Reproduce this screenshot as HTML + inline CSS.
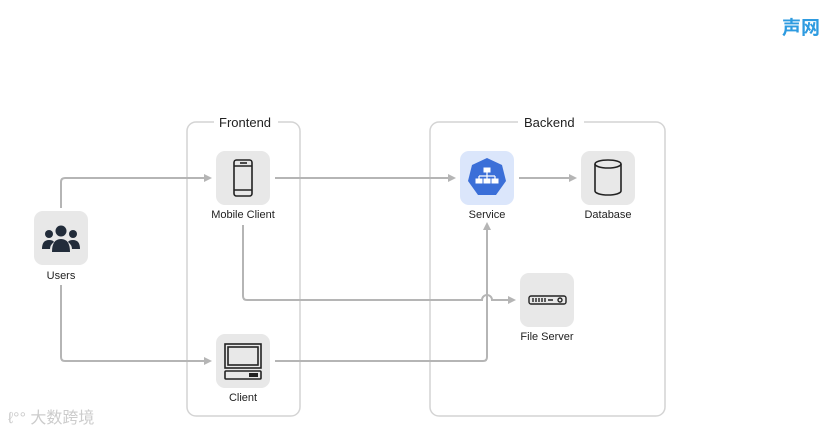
<!DOCTYPE html>
<html><head><meta charset="utf-8"><style>
body{margin:0;width:830px;height:430px;background:#fff;overflow:hidden;position:relative;font-family:"Liberation Sans","Noto Sans CJK SC",sans-serif}
.t{position:absolute;font-size:11px;color:#222;text-align:center;width:100px}
</style></head><body>
<svg width="830" height="430" style="position:absolute;left:0;top:0">
<defs><marker id="a" markerWidth="8" markerHeight="8" refX="6" refY="4" orient="auto" markerUnits="userSpaceOnUse"><path d="M0,0 L8,4 L0,8 z" fill="#b5b5b5"/></marker></defs>
<rect x="187" y="122" width="113" height="294" rx="9" fill="none" stroke="#d4d4d4" stroke-width="1.5"/>
<rect x="430" y="122" width="235" height="294" rx="9" fill="none" stroke="#d4d4d4" stroke-width="1.5"/>
<rect x="214" y="114" width="64" height="16" fill="#fff"/>
<rect x="518" y="114" width="66" height="16" fill="#fff"/>
<g fill="none" stroke="#b5b5b5" stroke-width="2">
<path d="M61,208 V182 Q61,178 65,178 H210" marker-end="url(#a)"/>
<path d="M61,285 V357 Q61,361 65,361 H210" marker-end="url(#a)"/>
<path d="M275,178 H454" marker-end="url(#a)"/>
<path d="M519,178 H575" marker-end="url(#a)"/>
<path d="M243,225 V296 Q243,300 247,300 H482 A5,5 0 0 1 492,300 H514" marker-end="url(#a)"/>
<path d="M275,361 H483 Q487,361 487,357 V224" marker-end="url(#a)"/>
</g>
<rect x="34" y="211" width="54" height="54" rx="9" fill="#e8e8e8"/>
<rect x="216" y="151" width="54" height="54" rx="9" fill="#e8e8e8"/>
<rect x="216" y="334" width="54" height="54" rx="9" fill="#e8e8e8"/>
<rect x="460" y="151" width="54" height="54" rx="9" fill="#dbe6fb"/>
<rect x="581" y="151" width="54" height="54" rx="9" fill="#e8e8e8"/>
<rect x="520" y="273" width="54" height="54" rx="9" fill="#e8e8e8"/>
<!-- users icon -->
<g fill="#222c3a"><circle cx="61" cy="231" r="5.5"/><circle cx="49" cy="234" r="4"/><circle cx="73" cy="234" r="4"/>
<path d="M52,252 Q52,239 61,239 Q70,239 70,252 z"/><path d="M42,249 Q42,240 49,240 Q53,240 54,242 Q50,245 50,249 z"/><path d="M80,249 Q80,240 73,240 Q69,240 68,242 Q72,245 72,249 z"/></g>
<!-- phone -->
<g fill="none" stroke="#222" stroke-width="1.6"><rect x="234" y="160" width="18" height="36" rx="2.5"/><line x1="234" y1="166" x2="252" y2="166"/><line x1="234" y1="190" x2="252" y2="190"/><line x1="240" y1="163" x2="247" y2="163"/></g>
<!-- laptop -->
<g fill="none" stroke="#222" stroke-width="1.6"><rect x="225" y="344" width="36" height="24"/><rect x="228" y="347" width="30" height="18"/><rect x="225" y="371" width="36" height="8" rx="1"/></g><rect x="249" y="373" width="9" height="4" fill="#222"/>
<!-- service -->
<path d="M487,158 L502,165 L506,181 L496,195 L478,195 L468,181 L472,165 z" fill="#3b6fd8"/>
<g fill="#fff" stroke="#fff"><rect x="484" y="168" width="6" height="4"/><path d="M487,172 V176 M479,176 H495 M479,176 V179 M487,176 V179 M495,176 V179" fill="none" stroke-width="1.2"/><rect x="476" y="179" width="6" height="4"/><rect x="484" y="179" width="6" height="4"/><rect x="492" y="179" width="6" height="4"/></g>
<!-- database -->
<g fill="none" stroke="#222" stroke-width="1.6"><ellipse cx="608" cy="164" rx="13" ry="4"/><path d="M595,164 V191 A13,4 0 0 0 621,191 V164"/></g>
<!-- file server -->
<g fill="none" stroke="#222" stroke-width="1.4"><rect x="529" y="296" width="37" height="8" rx="2"/><path d="M533,298 V302 M536,298 V302 M539,298 V302 M542,298 V302 M545,298 V302 M548,300 H553"/><circle cx="560" cy="300" r="2"/></g>
</svg>
<div style="position:absolute;left:219px;top:115px;font-size:13px;color:#222">Frontend</div>
<div style="position:absolute;left:524px;top:115px;font-size:13px;color:#222">Backend</div>
<div class="t" style="left:11px;top:270px">Users</div>
<div class="t" style="left:193px;top:209px">Mobile Client</div>
<div class="t" style="left:193px;top:392px">Client</div>
<div class="t" style="left:437px;top:209px">Service</div>
<div class="t" style="left:558px;top:209px">Database</div>
<div class="t" style="left:497px;top:331px">File Server</div>
<div style="position:absolute;left:782px;top:13px;font-size:19px;font-weight:bold;color:#2e9be0">声网</div>
<div style="position:absolute;left:8px;top:404px;font-size:16px;color:#ccc">ℓ°° 大数跨境</div>
</body></html>
